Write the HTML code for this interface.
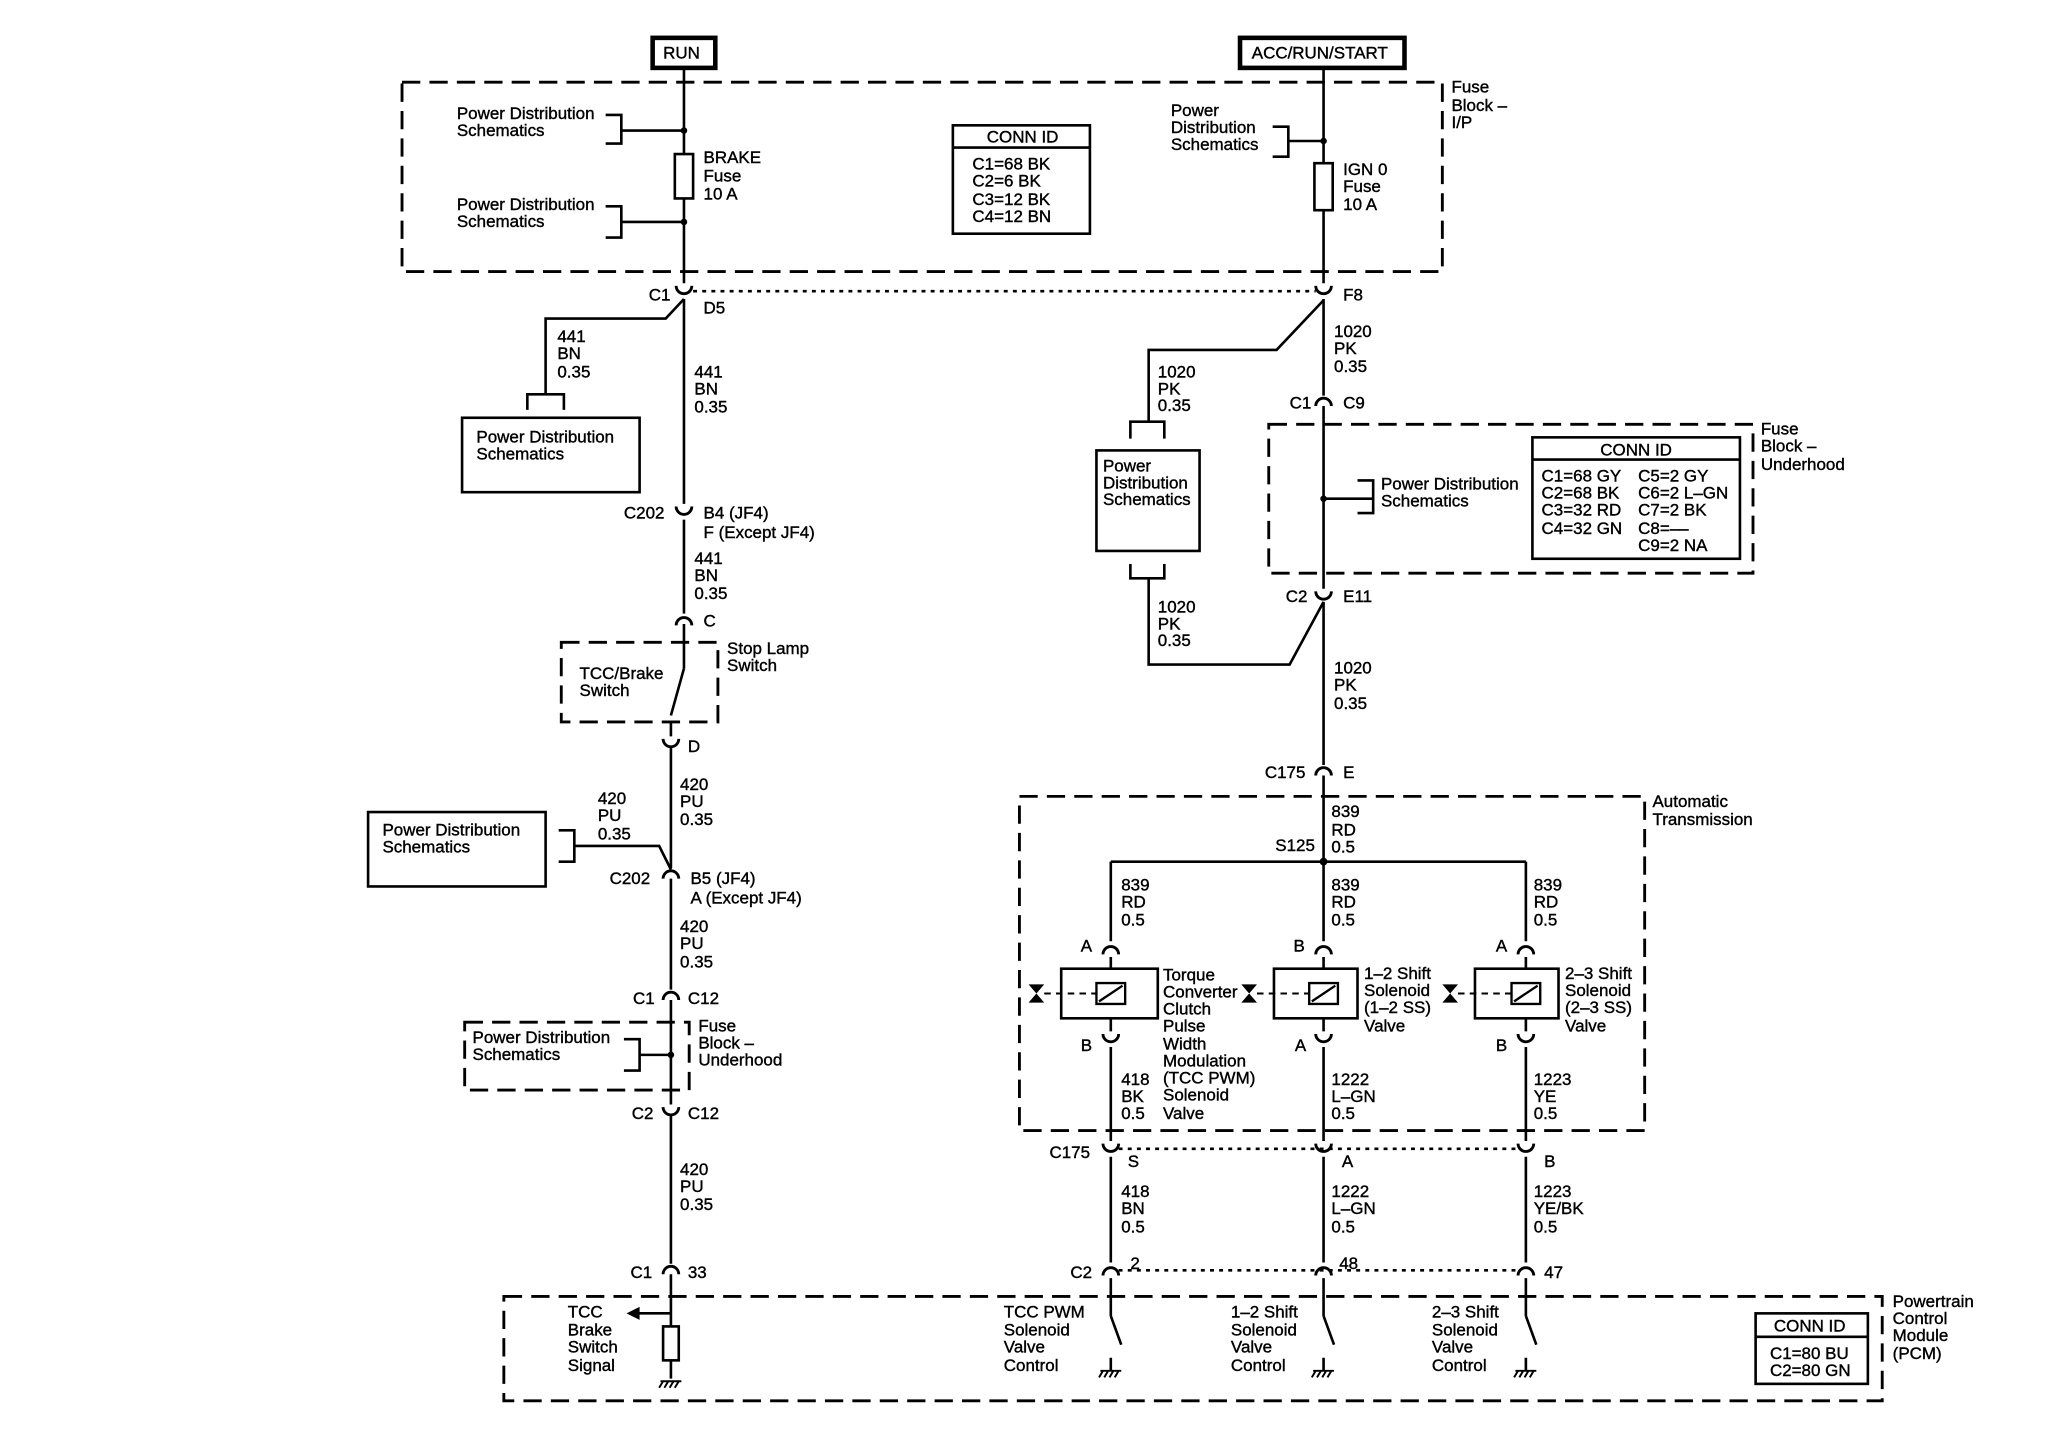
<!DOCTYPE html>
<html><head><meta charset="utf-8"><style>
html,body{margin:0;padding:0;background:#fff;}
svg{display:block;}
text{font-family:"Liberation Sans",sans-serif;font-size:13px;fill:#000;stroke:#000;stroke-width:0.3px;letter-spacing:0px;}
</style></head><body>
<svg width="2048" height="1440" viewBox="0 0 1569 1103" preserveAspectRatio="none" xmlns="http://www.w3.org/2000/svg">
<g fill="none" stroke="#000" stroke-width="2">
<rect x="500" y="29" width="48" height="23" stroke-width="3.5"/>
<rect x="950" y="29" width="126" height="23" stroke-width="3.5"/>
<g stroke-dasharray="14,7" stroke-width="2.2">
<rect x="308" y="63" width="797" height="145"/>
<rect x="972" y="325" width="371" height="114"/>
<rect x="430" y="492" width="120" height="61"/>
<rect x="356" y="783" width="172" height="52"/>
<rect x="781" y="610" width="479" height="256"/>
<rect x="386" y="993" width="1056" height="80"/>
</g>
<g stroke-dasharray="3,4" stroke-width="2">
<line x1="531" y1="223" x2="1008" y2="223"/>
<line x1="857" y1="880" x2="1163" y2="880"/>
<line x1="857" y1="973" x2="1163" y2="973"/>
</g>
<path d="M524 52 V118 M524 152 V217 M524 229 V386 M524 398 V470 M524 478 V496 L524 512 M524 512 L514 548 M514 552 V564 M514 572 V665 M514 673 V758 M514 766 V846 M514 854 V968 M514 976 V1016 M514 1042 V1056"/>
<rect x="517" y="118" width="14" height="34"/>
<path d="M464 88 H476 V110 H464 M476 100 H524"/>
<path d="M464 158 H476 V182 H464 M476 170 H524"/>
<path d="M1014 52 V125 M1014 161 V217 M1014 229 V303 M1014 311 V451 M1014 461 V586 M1014 594 V660"/>
<rect x="1007" y="125" width="14" height="36"/>
<path d="M975 97 H987 V120 H975 M987 108 H1014"/>
<rect x="730" y="96" width="105" height="83"/><line x1="730" y1="113" x2="835" y2="113"/>
<rect x="1174" y="335" width="159" height="93"/><line x1="1174" y1="352" x2="1333" y2="352"/>
<rect x="1345" y="1006" width="86" height="54"/><line x1="1345" y1="1024" x2="1431" y2="1024"/>
<path d="M524 229 L510 244 H418 V302 M404 314 V302 H432 V314"/>
<rect x="354" y="320" width="136" height="57"/>
<rect x="282" y="622" width="136" height="57"/>
<path d="M428 636 H440 V660 H428 M440 648 H505 L514 666"/>
<path d="M478 796 H490 V820 H478 M490 808 H514"/>
<path d="M1014 230 L978 268 H880 V323 M866 336 V323 H892 V336"/>
<rect x="840" y="345" width="79" height="77"/>
<path d="M866 432 V443 H892 V432 M880 443 V509 H988 L1014 461"/>
<path d="M1040 368 H1052 V393 H1040 M1052 382 H1014"/>
<path d="M851 660 H1169 M851 660 V721 M1169 660 V721 M1014 660 V721"/>
<path d="M851 733 V742 M1014 733 V742 M1169 733 V742 M851 780 V790 M1014 780 V790 M1169 780 V790"/>
<path d="M851 802 V874 M1014 802 V874 M1169 802 V874 M851 886 V967 M1014 886 V967 M1169 886 V967 M851 979 V1008 M1014 979 V1008 M1169 979 V1008"/>
<rect x="813" y="742" width="74" height="38"/><rect x="976" y="742" width="64" height="38"/><rect x="1130" y="742" width="64" height="38"/>
<g stroke-width="1.8">
<rect x="840" y="753" width="22" height="16"/><line x1="842" y1="767" x2="860" y2="755"/>
<rect x="1003" y="753" width="22" height="16"/><line x1="1005" y1="767" x2="1023" y2="755"/>
<rect x="1158" y="753" width="22" height="16"/><line x1="1160" y1="767" x2="1178" y2="755"/>
</g>
<g stroke-dasharray="5,4" stroke-width="1.5">
<line x1="800" y1="761" x2="840" y2="761"/><line x1="963" y1="761" x2="1003" y2="761"/><line x1="1117" y1="761" x2="1158" y2="761"/>
</g>
<path d="M851 1008 L859 1030 M851 1040 V1050 M1014 1008 L1022 1030 M1014 1040 V1050 M1169 1008 L1177 1030 M1169 1040 V1050"/>
<path d="M514 1006 H486"/>
<rect x="508" y="1016" width="12" height="26"/>
<g stroke-width="2.2">
<path d="M518 219 A6 6 0 0 0 530 219"/>
<path d="M1008 219 A6 6 0 0 0 1020 219"/>
<path d="M518 388 A6 6 0 0 0 530 388"/>
<path d="M508 566 A6 6 0 0 0 520 566"/>
<path d="M508 848 A6 6 0 0 0 520 848"/>
<path d="M1008 453 A6 6 0 0 0 1020 453"/>
<path d="M845 792 A6 6 0 0 0 857 792"/><path d="M1008 792 A6 6 0 0 0 1020 792"/><path d="M1163 792 A6 6 0 0 0 1175 792"/>
<path d="M845 876 A6 6 0 0 0 857 876"/><path d="M1008 876 A6 6 0 0 0 1020 876"/><path d="M1163 876 A6 6 0 0 0 1175 876"/>
<path d="M518 479 A6 6 0 0 1 530 479"/>
<path d="M508 673 A6 6 0 0 1 520 673"/>
<path d="M508 766 A6 6 0 0 1 520 766"/>
<path d="M508 976 A6 6 0 0 1 520 976"/>
<path d="M1008 311 A6 6 0 0 1 1020 311"/>
<path d="M1008 594 A6 6 0 0 1 1020 594"/>
<path d="M845 731 A6 6 0 0 1 857 731"/><path d="M1008 731 A6 6 0 0 1 1020 731"/><path d="M1163 731 A6 6 0 0 1 1175 731"/>
<path d="M845 977 A6 6 0 0 1 857 977"/><path d="M1008 977 A6 6 0 0 1 1020 977"/><path d="M1163 977 A6 6 0 0 1 1175 977"/>
</g>
<g stroke-width="1.5">
<path d="M506 1058 H522 M508 1058 L505 1063 M512 1058 L509 1063 M516 1058 L513 1063 M520 1058 L517 1063"/>
<path d="M843 1050 H859 M845 1050 L842 1055 M849 1050 L846 1055 M853 1050 L850 1055 M857 1050 L854 1055"/>
<path d="M1006 1050 H1022 M1008 1050 L1005 1055 M1012 1050 L1009 1055 M1016 1050 L1013 1055 M1020 1050 L1017 1055"/>
<path d="M1161 1050 H1177 M1163 1050 L1160 1055 M1167 1050 L1164 1055 M1171 1050 L1168 1055 M1175 1050 L1172 1055"/>
</g>
</g>
<g fill="#000">
<circle cx="524" cy="100" r="2.5"/><circle cx="524" cy="170" r="2.5"/><circle cx="1014" cy="108" r="2.5"/>
<circle cx="1014" cy="382" r="2.5"/><circle cx="514" cy="808" r="2.5"/><circle cx="1014" cy="660" r="3"/>
<path d="M480 1006 L490 1001 L490 1011 Z"/>
<path d="M788 754 L800 754 L794 761 Z M788 768 L800 768 L794 761 Z"/>
<path d="M951 754 L963 754 L957 761 Z M951 768 L963 768 L957 761 Z"/>
<path d="M1105 754 L1117 754 L1111 761 Z M1105 768 L1117 768 L1111 761 Z"/>
</g>
<g>
<text x="508" y="45">RUN</text>
<text x="959" y="45">ACC/RUN/START</text>
<text x="1112" y="71">Fuse</text><text x="1112" y="85">Block –</text><text x="1112" y="98">I/P</text>
<text x="350" y="91">Power Distribution</text><text x="350" y="104">Schematics</text>
<text x="350" y="161">Power Distribution</text><text x="350" y="174">Schematics</text>
<text x="539" y="125">BRAKE</text><text x="539" y="139">Fuse</text><text x="539" y="153">10 A</text>
<text x="756" y="109">CONN ID</text>
<text x="745" y="130">C1=68 BK</text><text x="745" y="143">C2=6 BK</text><text x="745" y="157">C3=12 BK</text><text x="745" y="170">C4=12 BN</text>
<text x="897" y="89">Power</text><text x="897" y="102">Distribution</text><text x="897" y="115">Schematics</text>
<text x="1029" y="134">IGN 0</text><text x="1029" y="147">Fuse</text><text x="1029" y="161">10 A</text>
<text x="497" y="230">C1</text><text x="539" y="240">D5</text><text x="1029" y="230">F8</text>
<text x="427" y="262">441</text><text x="427" y="275">BN</text><text x="427" y="289">0.35</text>
<text x="365" y="339">Power Distribution</text><text x="365" y="352">Schematics</text>
<text x="532" y="289">441</text><text x="532" y="302">BN</text><text x="532" y="316">0.35</text>
<text x="478" y="397">C202</text><text x="539" y="397">B4 (JF4)</text><text x="539" y="412">F (Except JF4)</text>
<text x="532" y="432">441</text><text x="532" y="445">BN</text><text x="532" y="459">0.35</text>
<text x="539" y="480">C</text>
<text x="557" y="501">Stop Lamp</text><text x="557" y="514">Switch</text>
<text x="444" y="520">TCC/Brake</text><text x="444" y="533">Switch</text>
<text x="527" y="576">D</text>
<text x="521" y="605">420</text><text x="521" y="618">PU</text><text x="521" y="632">0.35</text>
<text x="458" y="616">420</text><text x="458" y="629">PU</text><text x="458" y="643">0.35</text>
<text x="293" y="640">Power Distribution</text><text x="293" y="653">Schematics</text>
<text x="467" y="677">C202</text><text x="529" y="677">B5 (JF4)</text><text x="529" y="692">A (Except JF4)</text>
<text x="521" y="714">420</text><text x="521" y="727">PU</text><text x="521" y="741">0.35</text>
<text x="485" y="769">C1</text><text x="527" y="769">C12</text>
<text x="535" y="790">Fuse</text><text x="535" y="803">Block –</text><text x="535" y="816">Underhood</text>
<text x="362" y="799">Power Distribution</text><text x="362" y="812">Schematics</text>
<text x="484" y="857">C2</text><text x="527" y="857">C12</text>
<text x="521" y="900">420</text><text x="521" y="913">PU</text><text x="521" y="927">0.35</text>
<text x="483" y="979">C1</text><text x="527" y="979">33</text>
<text x="1022" y="258">1020</text><text x="1022" y="271">PK</text><text x="1022" y="285">0.35</text>
<text x="887" y="289">1020</text><text x="887" y="302">PK</text><text x="887" y="315">0.35</text>
<text x="988" y="313">C1</text><text x="1029" y="313">C9</text>
<text x="1349" y="333">Fuse</text><text x="1349" y="346">Block –</text><text x="1349" y="360">Underhood</text>
<text x="845" y="361">Power</text><text x="845" y="374">Distribution</text><text x="845" y="387">Schematics</text>
<text x="1058" y="375">Power Distribution</text><text x="1058" y="388">Schematics</text>
<text x="1226" y="349">CONN ID</text>
<text x="1181" y="369">C1=68 GY</text><text x="1255" y="369">C5=2 GY</text>
<text x="1181" y="382">C2=68 BK</text><text x="1255" y="382">C6=2 L–GN</text>
<text x="1181" y="395">C3=32 RD</text><text x="1255" y="395">C7=2 BK</text>
<text x="1181" y="409">C4=32 GN</text><text x="1255" y="409">C8=––</text>
<text x="1255" y="422">C9=2 NA</text>
<text x="887" y="469">1020</text><text x="887" y="482">PK</text><text x="887" y="495">0.35</text>
<text x="985" y="461">C2</text><text x="1029" y="461">E11</text>
<text x="1022" y="516">1020</text><text x="1022" y="529">PK</text><text x="1022" y="543">0.35</text>
<text x="969" y="596">C175</text><text x="1029" y="596">E</text>
<text x="1266" y="618">Automatic</text><text x="1266" y="632">Transmission</text>
<text x="1020" y="626">839</text><text x="1020" y="640">RD</text><text x="1020" y="653">0.5</text>
<text x="977" y="652">S125</text>
<text x="859" y="682">839</text><text x="859" y="695">RD</text><text x="859" y="709">0.5</text>
<text x="1020" y="682">839</text><text x="1020" y="695">RD</text><text x="1020" y="709">0.5</text>
<text x="1175" y="682">839</text><text x="1175" y="695">RD</text><text x="1175" y="709">0.5</text>
<text x="828" y="729">A</text><text x="991" y="729">B</text><text x="1146" y="729">A</text>
<text x="891" y="751">Torque</text><text x="891" y="764">Converter</text><text x="891" y="777">Clutch</text><text x="891" y="790">Pulse</text><text x="891" y="804">Width</text><text x="891" y="817">Modulation</text><text x="891" y="830">(TCC PWM)</text><text x="891" y="843">Solenoid</text><text x="891" y="857">Valve</text>
<text x="1045" y="750">1–2 Shift</text><text x="1045" y="763">Solenoid</text><text x="1045" y="776">(1–2 SS)</text><text x="1045" y="790">Valve</text>
<text x="1199" y="750">2–3 Shift</text><text x="1199" y="763">Solenoid</text><text x="1199" y="776">(2–3 SS)</text><text x="1199" y="790">Valve</text>
<text x="828" y="805">B</text><text x="992" y="805">A</text><text x="1146" y="805">B</text>
<text x="859" y="831">418</text><text x="859" y="844">BK</text><text x="859" y="857">0.5</text>
<text x="1020" y="831">1222</text><text x="1020" y="844">L–GN</text><text x="1020" y="857">0.5</text>
<text x="1175" y="831">1223</text><text x="1175" y="844">YE</text><text x="1175" y="857">0.5</text>
<text x="804" y="887">C175</text><text x="864" y="894">S</text><text x="1028" y="894">A</text><text x="1183" y="894">B</text>
<text x="859" y="917">418</text><text x="859" y="930">BN</text><text x="859" y="944">0.5</text>
<text x="1020" y="917">1222</text><text x="1020" y="930">L–GN</text><text x="1020" y="944">0.5</text>
<text x="1175" y="917">1223</text><text x="1175" y="930">YE/BK</text><text x="1175" y="944">0.5</text>
<text x="820" y="979">C2</text><text x="866" y="972">2</text><text x="1026" y="972">48</text><text x="1183" y="979">47</text>
<text x="1450" y="1001">Powertrain</text><text x="1450" y="1014">Control</text><text x="1450" y="1027">Module</text><text x="1450" y="1041">(PCM)</text>
<text x="435" y="1009">TCC</text><text x="435" y="1023">Brake</text><text x="435" y="1036">Switch</text><text x="435" y="1050">Signal</text>
<text x="769" y="1009">TCC PWM</text><text x="769" y="1023">Solenoid</text><text x="769" y="1036">Valve</text><text x="769" y="1050">Control</text>
<text x="943" y="1009">1–2 Shift</text><text x="943" y="1023">Solenoid</text><text x="943" y="1036">Valve</text><text x="943" y="1050">Control</text>
<text x="1097" y="1009">2–3 Shift</text><text x="1097" y="1023">Solenoid</text><text x="1097" y="1036">Valve</text><text x="1097" y="1050">Control</text>
<text x="1359" y="1020">CONN ID</text>
<text x="1356" y="1041">C1=80 BU</text><text x="1356" y="1054">C2=80 GN</text>
</g>
</svg>
</body></html>
